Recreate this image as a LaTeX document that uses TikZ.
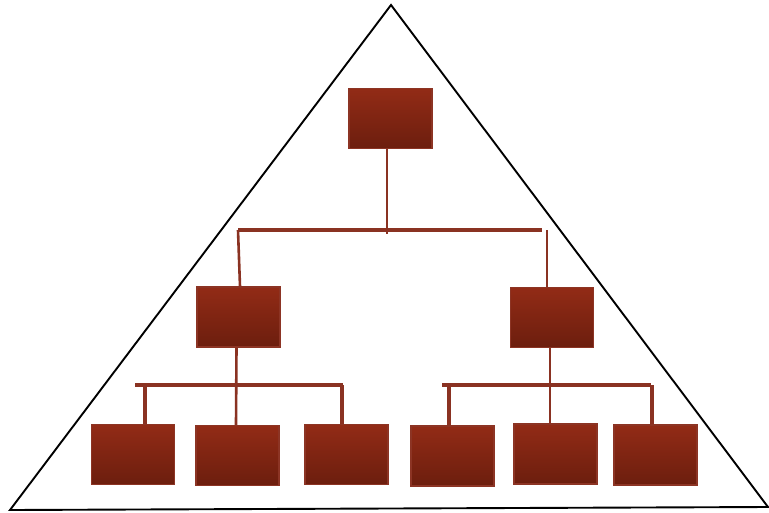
\documentclass[tikz,border=0pt]{standalone}
\definecolor{boxtop}{RGB}{146,43,22}
\definecolor{boxbot}{RGB}{108,30,14}
\definecolor{boxedge}{RGB}{140,52,36}
\definecolor{linkred}{RGB}{138,50,34}
\begin{document}
\begin{tikzpicture}[x=1pt, y=-1pt,
  orgbox/.style={rectangle, draw=boxedge, line width=1.2pt, top color=boxtop,
    bottom color=boxbot, minimum width=83pt, minimum height=60pt, inner sep=0pt},
  link/.style={draw=linkred, line width=3.4pt},
  thinlink/.style={draw=linkred, line width=2.6pt}]
\useasboundingbox (0,0) rectangle (769,512);
% pyramid outline
\coordinate (apex) at (391,5);
\coordinate (baseL) at (10,510);
\coordinate (baseR) at (768,507);
\draw [black, line width=1.9pt, line join=miter] (apex) -- (baseL) -- (baseR) -- cycle;
% boxes
\node [orgbox] (root) at (390.5,118.5) {};
\node [orgbox] (midL) at (238.5,317) {};
\node [orgbox] (midR) at (552,317.5) {};
\node [orgbox] (b1) at (133,454.5) {};
\node [orgbox] (b2) at (237.5,455.5) {};
\node [orgbox] (b3) at (346.5,454.5) {};
\node [orgbox] (b4) at (452.5,456) {};
\node [orgbox] (b5) at (555.5,454) {};
\node [orgbox] (b6) at (655.5,455) {};
% top level
\coordinate (topL) at (238,230);
\coordinate (topR) at (542,230);
\draw [link] (topL) -- (topR);
\draw [thinlink] ([xshift=-3.5pt]root.south) -- ++(0,85);
\draw [thinlink] (topL) -- ([xshift=1.5pt]midL.north);
\draw [thinlink] ([xshift=-5pt]midR.north) -- ++(0,-57);
% left group
\coordinate (barLa) at (135,385);
\coordinate (barLb) at (343,385);
\draw [link] (barLa) -- (barLb);
\draw [link] ([xshift=12pt]b1.north) -- ([xshift=12pt]b1.north |- barLa);
\draw [link] ([xshift=-4.5pt]b3.north) -- ([xshift=-4.5pt]b3.north |- barLa);
\draw [thinlink] ([xshift=-2pt]midL.south) -- ([xshift=-1.5pt]b2.north);
% right group
\coordinate (barRa) at (442,385);
\coordinate (barRb) at (651,385);
\draw [link] (barRa) -- (barRb);
\draw [link] ([xshift=-3.5pt]b4.north) -- ([xshift=-3.5pt]b4.north |- barRa);
\draw [link] ([xshift=-3.5pt]b6.north) -- ([xshift=-3.5pt]b6.north |- barRa);
\draw [thinlink] ([xshift=-2pt]midR.south) -- ([xshift=-5.5pt]b5.north);
\end{tikzpicture}
\end{document}
